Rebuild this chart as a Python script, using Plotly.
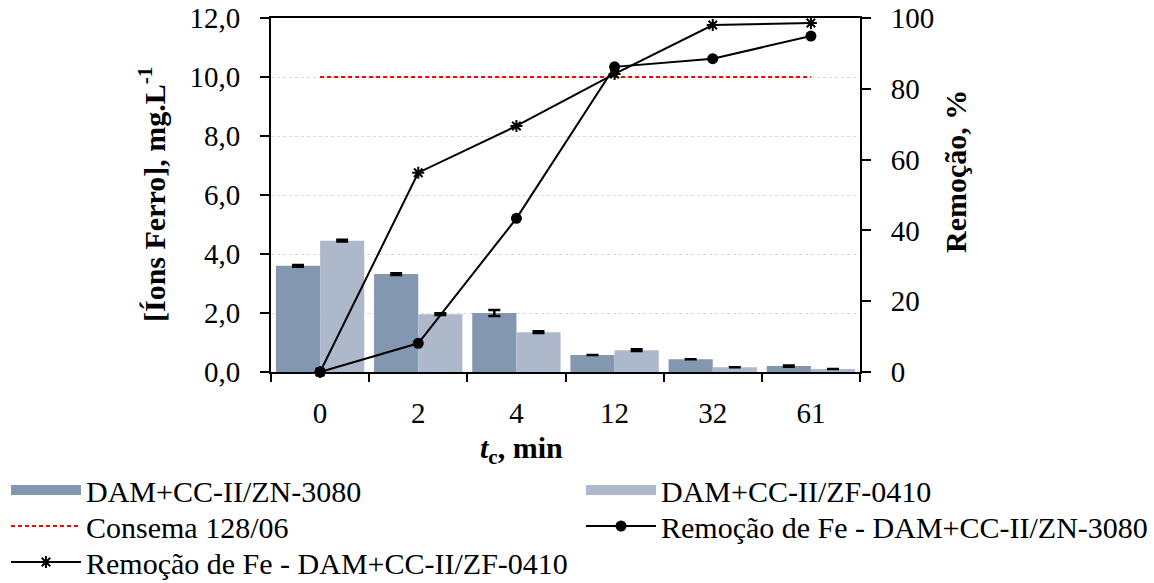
import plotly.graph_objects as go

categories = ["0", "2", "4", "12", "32", "61"]
ferro_zn = [3.60, 3.32, 2.00, 0.58, 0.43, 0.20]
ferro_zn_err = [0.03, 0.03, 0.10, 0.0, 0.0, 0.02]
ferro_zf = [4.45, 1.96, 1.35, 0.74, 0.16, 0.10]
ferro_zf_err = [0.03, 0.03, 0.03, 0.03, 0.0, 0.0]
consema = [10, 10, 10, 10, 10, 10]
rem_zn = [0, 8.1, 43.4, 86.2, 88.5, 94.9]
rem_zf = [0, 56.3, 69.5, 84.2, 98.0, 98.6]

FONT = "Liberation Serif"
FS = 29
LFS = 30
C_ZN = "#8497B0"
C_ZF = "#ADB9CA"

fig = go.Figure()
fig.add_trace(go.Bar(
    x=categories, y=ferro_zn, name="DAM+CC-II/ZN-3080", showlegend=False,
    marker=dict(color=C_ZN, line=dict(width=0)),
    error_y=dict(type="data", array=ferro_zn_err, color="black", thickness=2.5, width=6),
))
fig.add_trace(go.Bar(
    x=categories, y=ferro_zf, name="DAM+CC-II/ZF-0410", showlegend=False,
    marker=dict(color=C_ZF, line=dict(width=0)),
    error_y=dict(type="data", array=ferro_zf_err, color="black", thickness=2.5, width=6),
))
# legend-only entries with wide rectangular swatches for the bars
fig.add_trace(go.Scatter(
    x=[None], y=[None], name="DAM+CC-II/ZN-3080", mode="lines", legend="legend",
    line=dict(color=C_ZN, width=17),
))
fig.add_trace(go.Scatter(
    x=[None], y=[None], name="DAM+CC-II/ZF-0410", mode="lines", legend="legend2",
    line=dict(color=C_ZF, width=17),
))
fig.add_trace(go.Scatter(
    x=categories, y=consema, name="Consema 128/06", mode="lines", legend="legend3",
    line=dict(color="#FF0000", width=2, dash="4px,3px"),
))
fig.add_trace(go.Scatter(
    x=categories, y=rem_zn, name="Remoção de Fe - DAM+CC-II/ZN-3080", yaxis="y2",
    legend="legend4",
    mode="lines+markers", line=dict(color="black", width=2),
    marker=dict(symbol="circle", size=11, color="black"), cliponaxis=False,
))
fig.add_trace(go.Scatter(
    x=categories, y=rem_zf, name="Remoção de Fe - DAM+CC-II/ZF-0410", yaxis="y2",
    legend="legend5",
    mode="lines+markers", line=dict(color="black", width=2),
    marker=dict(symbol="asterisk-open", size=10, color="black", line=dict(color="black", width=2)),
    cliponaxis=False,
))


def leg(xpx, ypx):
    return dict(
        xref="container", yref="container", x=xpx / 1154, y=1 - ypx / 583,
        xanchor="left", yanchor="middle", itemwidth=70, orientation="h",
        font=dict(family=FONT, size=LFS, color="black"), bgcolor="rgba(0,0,0,0)",
        borderwidth=0,
    )


fig.update_layout(
    width=1154, height=583,
    margin=dict(l=271, r=294, t=18, b=211),
    paper_bgcolor="white", plot_bgcolor="white",
    font=dict(family=FONT, size=FS, color="black"),
    separators=",.",
    barmode="group", bargap=0.1, bargroupgap=0,
    xaxis=dict(
        type="category", showline=True, linecolor="black", linewidth=2, mirror=True,
        ticks="outside", tickson="boundaries", ticklen=8, tickwidth=2, tickcolor="black",
        showgrid=False, ticklabelstandoff=14, automargin=False,
    ),
    yaxis=dict(
        range=[0, 12], dtick=2, tickformat=".1f", showline=True, linecolor="black", linewidth=2,
        ticks="outside", ticklen=9, tickwidth=2, tickcolor="black",
        showgrid=True, gridcolor="#d9d9d9", griddash="dot", gridwidth=1,
        zeroline=False, ticklabelstandoff=14, automargin=False,
    ),
    yaxis2=dict(
        range=[0, 100], dtick=20, overlaying="y", side="right", showline=True,
        linecolor="black", linewidth=2, ticks="outside", ticklen=9, tickwidth=2,
        tickcolor="black", showgrid=False, zeroline=False, ticklabelstandoff=14,
        automargin=False,
    ),
    showlegend=True,
    legend=leg(6, 490),
    legend2=leg(581, 490),
    legend3=leg(6, 526),
    legend4=leg(581, 526),
    legend5=leg(6, 562),
    annotations=[
        dict(text="<b>[Íons Ferro], mg.L<sup>-1</sup></b>", xref="paper", yref="paper",
             x=(152 - 271) / 589, y=0.5, textangle=-90, showarrow=False,
             xanchor="center", yanchor="middle", font=dict(size=30)),
        dict(text="<b>Remoção, %</b>", xref="paper", yref="paper",
             x=(955 - 271) / 589, y=(372 - 172) / 354, textangle=-90, showarrow=False,
             xanchor="center", yanchor="middle", font=dict(size=30)),
        dict(text="<b><i>t</i><sub>c</sub>, min</b>", xref="paper", yref="paper",
             x=(521 - 271) / 589, y=(372 - 450) / 354, showarrow=False,
             xanchor="center", yanchor="middle", font=dict(size=30)),
    ],
)

fig.write_html("out.html")
